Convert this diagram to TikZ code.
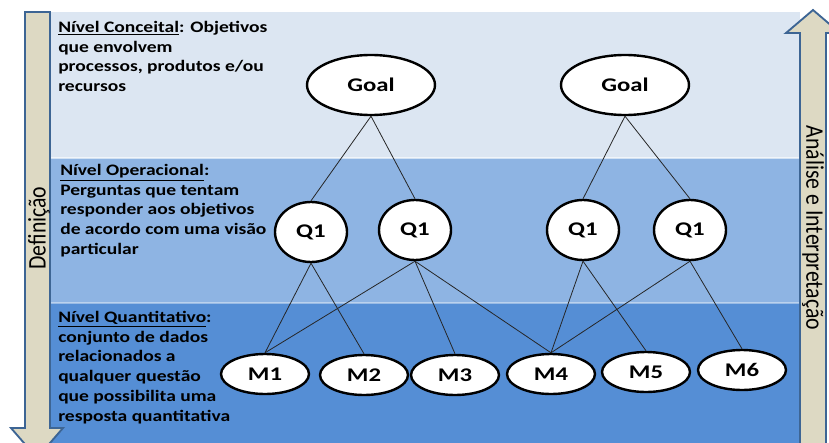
\documentclass[tikz,border=0pt]{standalone}
\usepackage{fontspec}
\setmainfont{Carlito}
\newfontfamily\widefont[FakeStretch=1.22]{Carlito}
\newfontfamily\labelfont[FakeStretch=1.28]{Carlito}
\newfontfamily\narrowfont[FakeStretch=0.86]{Carlito}
\usetikzlibrary{shapes.geometric}
\definecolor{bandA}{HTML}{DCE6F2}
\definecolor{bandB}{HTML}{8EB4E3}
\definecolor{bandC}{HTML}{558ED5}
\definecolor{arrfill}{HTML}{DDD9C3}
\definecolor{arrdraw}{HTML}{3D6594}
\definecolor{linkc}{HTML}{262626}
\newlength{\unitpx}\setlength{\unitpx}{0.75pt}
\tikzset{
  oval/.style={ellipse, draw=black, line width=1.8pt, fill=white, inner sep=0pt,
    font=\labelfont\fontsize{14.5}{16}\selectfont\bfseries},
  goalnode/.style={oval, minimum width=128\unitpx, minimum height=60\unitpx},
  qnode/.style={oval, minimum width=72\unitpx, minimum height=60\unitpx},
  mnode/.style={oval, minimum width=88\unitpx, minimum height=40\unitpx},
  link/.style={draw=linkc, line width=0.6pt},
  bigarrow/.style={fill=arrfill, draw=arrdraw, line width=1.4pt, line join=miter},
  leveltext/.style={anchor=north west, align=left, inner sep=0pt,
    font=\widefont\fontsize{12}{14.8}\selectfont\bfseries},
  arrowtext/.style={inner sep=0pt, font=\narrowfont\fontsize{19}{21}\selectfont}
}
\begin{document}
\begin{tikzpicture}[x=0.75pt,y=-0.75pt]
\useasboundingbox (0,0) rectangle (829,443);
\clip (0,0) rectangle (829,443);
% bands
\fill[bandA] (48,12) rectangle (800,158);
\fill[bandB] (48,158) rectangle (800,303);
\fill[bandC] (48,303) rectangle (800,450);
\draw[white, opacity=0.6, line width=0.8pt] (48,158) -- (800,158);
\draw[white, opacity=0.4, line width=0.8pt] (48,303) -- (800,303);
% arrows
\path[bigarrow] (25,12) -- (50,12) -- (50,428) -- (63,428) -- (37,458) -- (11,428) -- (25,428) -- cycle;
\path[bigarrow] (800,452) -- (800,33) -- (786,33) -- (813,10) -- (840,33) -- (826,33) -- (826,452) -- cycle;
\node[arrowtext, rotate=90] (def) at (39,228) {Definição};
\node[arrowtext, rotate=-90] (ana) at (813,228) {Análise e Interpretação};
% level texts
\node[leveltext] (t1) at (58,21) {\underline{Nível Conceital}: Objetivos\\que envolvem\\processos, produtos e/ou\\recursos};
\node[leveltext] (t2) at (60,164) {\underline{Nível Operacional}:\\Perguntas que tentam\\responder aos objetivos\\de acordo com uma visão\\particular};
\node[leveltext] (t3) at (58,311) {\underline{Nível Quantitativo}:\\conjunto de dados\\relacionados a\\qualquer questão\\que possibilita uma\\resposta quantitativa};
% nodes
\node[goalnode] (g1) at (371,85) {Goal};
\node[goalnode] (g2) at (625,85) {Goal};
\node[qnode] (q1) at (311,232) {Q1};
\node[qnode] (q2) at (415,230) {Q1};
\node[qnode] (q3) at (583,230) {Q1};
\node[qnode] (q4) at (690,230) {Q1};
\node[mnode] (m1) at (265,374) {M1};
\node[mnode] (m2) at (364,375) {M2};
\node[mnode] (m3) at (455,375) {M3};
\node[mnode] (m4) at (551,374) {M4};
\node[mnode] (m5) at (646,372) {M5};
\node[mnode] (m6) at (742,370) {M6};
% links
\draw[link] (g1.south) -- (q1.north);
\draw[link] (g1.south) -- (q2.north);
\draw[link] (g2.south) -- (q3.north);
\draw[link] (g2.south) -- (q4.north);
\draw[link] (q1.south) -- (m1.north);
\draw[link] (q1.south) -- (m2.north);
\draw[link] (q2.south) -- (m1.north);
\draw[link] (q2.south) -- (m3.north);
\draw[link] (q2.south) -- (m4.north);
\draw[link] (q3.south) -- (m4.north);
\draw[link] (q3.south) -- (m5.north);
\draw[link] (q4.south) -- (m4.north);
\draw[link] (q4.south) -- (m6.north);
\end{tikzpicture}
\end{document}
